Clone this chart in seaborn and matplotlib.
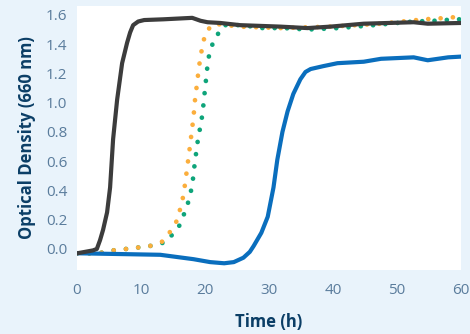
import matplotlib
matplotlib.use("Agg")
import matplotlib.pyplot as plt
import seaborn as sns
import pandas as pd

# Data (time in hours, OD660)
black_t = [0.0, 2.5, 3.1, 3.6, 4.07, 4.7, 5.17, 5.64, 6.27, 7.05, 7.83, 8.3, 8.77, 9.56, 10.5, 13.5, 18.0, 19.3, 20.4, 22.4, 25.5, 31.8, 36.0, 39.6, 44.8, 52.6, 54.8, 60.0]
black_y = [-0.03, -0.01, 0.0, 0.06, 0.13, 0.25, 0.42, 0.75, 1.02, 1.27, 1.41, 1.48, 1.53, 1.555, 1.565, 1.57, 1.58, 1.56, 1.55, 1.545, 1.53, 1.52, 1.51, 1.52, 1.54, 1.55, 1.54, 1.545]

orange_t = [0.0, 3.3, 5.6, 7.7, 9.6, 11.4, 13.3, 14.6, 15.7, 16.1, 16.6, 16.9, 17.2, 17.7, 18.2, 18.5, 18.8, 19.0, 19.3, 19.6, 20.1, 21.3, 25.5, 31.8, 39.6, 47.5, 54.2, 58.0, 60.0]
orange_y = [-0.03, -0.03, -0.01, 0.0, 0.01, 0.02, 0.05, 0.12, 0.2, 0.27, 0.36, 0.45, 0.55, 0.72, 0.9, 1.05, 1.14, 1.23, 1.31, 1.39, 1.48, 1.54, 1.52, 1.51, 1.52, 1.54, 1.57, 1.58, 1.59]

green_t = [0.0, 3.3, 5.6, 7.7, 9.6, 11.4, 13.3, 14.1, 16.0, 17.2, 18.0, 18.3, 18.8, 19.6, 19.9, 20.5, 21.3, 22.9, 25.8, 29.0, 32.3, 36.0, 40.9, 46.4, 52.5, 55.8, 59.2, 60.0]
green_y = [-0.03, -0.03, -0.01, 0.0, 0.01, 0.02, 0.04, 0.055, 0.16, 0.29, 0.43, 0.55, 0.72, 0.92, 1.05, 1.30, 1.42, 1.53, 1.53, 1.51, 1.51, 1.50, 1.51, 1.53, 1.555, 1.56, 1.57, 1.57]

blue_t = [0.0, 0.5, 13.0, 18.2, 20.8, 23.0, 24.5, 26.0, 27.0, 27.6, 28.8, 29.8, 30.7, 31.3, 32.1, 32.9, 33.8, 34.9, 35.7, 36.5, 38.5, 40.7, 44.8, 47.5, 52.6, 54.8, 56.4, 58.0, 60.0]
blue_y = [-0.03, -0.03, -0.04, -0.07, -0.09, -0.098, -0.09, -0.06, -0.02, 0.02, 0.11, 0.22, 0.42, 0.61, 0.8, 0.94, 1.06, 1.16, 1.21, 1.23, 1.25, 1.27, 1.28, 1.30, 1.31, 1.29, 1.30, 1.31, 1.315]

x_ticks = [0, 10, 20, 30, 40, 50, 60]
y_ticks = [0.0, 0.2, 0.4, 0.6, 0.8, 1.0, 1.2, 1.4, 1.6]

BG = "#E9F3FB"
sns.set_style("white")
plt.rcParams['font.family'] = ['Open Sans', 'DejaVu Sans']

fig = plt.figure(figsize=(4.7, 3.34), dpi=100, facecolor=BG)
ax = fig.add_axes([77/470, 1-270/334, (461-77)/470, (270-6)/334])
ax.set_facecolor("white")

lw = 3.0
dlw = 3.4
dots = (0, (0.01, 2.6))

df_b = pd.DataFrame({"t": blue_t, "y": blue_y})
df_g = pd.DataFrame({"t": green_t, "y": green_y})
df_o = pd.DataFrame({"t": orange_t, "y": orange_y})
df_k = pd.DataFrame({"t": black_t, "y": black_y})

sns.lineplot(data=df_g, x="t", y="y", ax=ax, color="#0EA47A", lw=dlw,
             estimator=None, sort=False, linestyle=dots, dash_capstyle="round")
sns.lineplot(data=df_o, x="t", y="y", ax=ax, color="#FBAE3C", lw=dlw,
             estimator=None, sort=False, linestyle=dots, dash_capstyle="round")
sns.lineplot(data=df_b, x="t", y="y", ax=ax, color="#0A6EBD", lw=lw,
             estimator=None, sort=False, solid_capstyle="round", solid_joinstyle="round")
sns.lineplot(data=df_k, x="t", y="y", ax=ax, color="#3C3C3C", lw=lw,
             estimator=None, sort=False, solid_capstyle="round", solid_joinstyle="round")

ax.set_xlim(0, 60)
ax.set_ylim(-0.144, 1.661)
ax.set_xticks(x_ticks)
ax.set_xticklabels([str(v) for v in x_ticks])
ax.set_yticks(y_ticks)
ax.set_yticklabels([f"{v:.1f}" for v in y_ticks])
for s in ax.spines.values():
    s.set_visible(False)
ax.tick_params(axis="both", length=0, labelsize=11, labelcolor="#5A7C9C")
ax.tick_params(axis="x", pad=9)
ax.tick_params(axis="y", pad=7)
ax.set_xlabel("Time (h)", fontsize=12, fontweight="bold", color="#0B3E66", labelpad=11)
ax.set_ylabel("Optical Density (660 nm)", fontsize=12, fontweight="bold", color="#0B3E66", labelpad=7)
ax.grid(False)

fig.savefig("out.png", dpi=100, facecolor=BG)
